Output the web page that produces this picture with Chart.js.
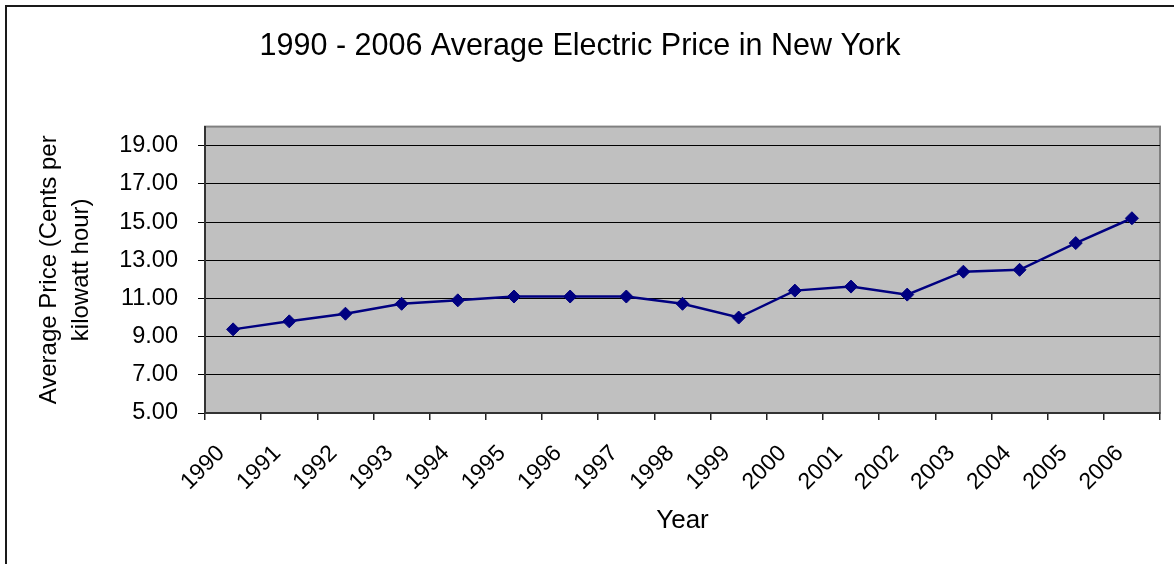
<!DOCTYPE html>
<html>
<head>
<meta charset="utf-8">
<script src="https://cdn.jsdelivr.net/npm/chart.js@4"></script>
<style>
  html, body { margin: 0; padding: 0; background: #ffffff; }
  #wrap { width: 1174px; height: 564px; position: relative; }
</style>
</head>
<body>
<div id="wrap"><canvas id="c"></canvas></div>
<script>
const years = ['1990','1991','1992','1993','1994','1995','1996','1997','1998','1999','2000','2001','2002','2003','2004','2005','2006'];
const prices = [9.38, 9.80, 10.20, 10.72, 10.90, 11.10, 11.10, 11.10, 10.72, 10.00, 11.41, 11.62, 11.20, 12.40, 12.50, 13.90, 15.20];
const yTicks = [5, 7, 9, 11, 13, 15, 17, 19];
const yMin = 5, yMax = 20;
const chartTitle = '1990 - 2006 Average Electric Price in New York';
const yTitle = ['Average Price (Cents per', 'kilowatt hour)'];
const xTitle = 'Year';

const FONT = "'Liberation Sans', Arial, sans-serif";

const framePlugin = {
  id: 'frame',
  beforeDraw(chart) {
    const ctx = chart.ctx;
    const a = chart.chartArea;
    ctx.save();
    ctx.fillStyle = '#ffffff';
    ctx.fillRect(0, 0, chart.width, chart.height);
    // outer chart frame
    ctx.strokeStyle = '#1a1a1a';
    ctx.lineWidth = 2;
    ctx.strokeRect(6, 6, chart.width + 20, chart.height + 20);
    // plot area
    ctx.fillStyle = '#C0C0C0';
    ctx.fillRect(a.left, a.top, a.right - a.left, a.bottom - a.top);
    ctx.strokeStyle = '#808080';
    ctx.lineWidth = 2;
    ctx.strokeRect(a.left, a.top, a.right - a.left, a.bottom - a.top);
    ctx.restore();
  }
};

new Chart(document.getElementById('c'), {
  type: 'line',
  data: {
    labels: years,
    datasets: [{
      data: prices,
      borderColor: '#000080',
      backgroundColor: '#000080',
      borderWidth: 2.5,
      tension: 0,
      pointStyle: 'rectRot',
      pointRadius: 6.5,
      pointBackgroundColor: '#000080',
      pointBorderColor: '#000080',
      pointBorderWidth: 1
    }]
  },
  options: {
    responsive: true,
    maintainAspectRatio: false,
    devicePixelRatio: 1,
    animation: false,
    layout: { padding: { left: 0, right: 14, top: 0, bottom: 28 } },
    plugins: {
      legend: { display: false },
      tooltip: { enabled: false },
      title: {
        display: true,
        text: chartTitle,
        color: '#000000',
        font: { family: FONT, size: 30.5, weight: 'normal', lineHeight: 1.2 },
        padding: { top: 28, bottom: 62 }
      }
    },
    scales: {
      x: {
        type: 'category',
        offset: true,
        afterFit(scale) { scale.height = 123; },
        grid: {
          offset: true,
          drawOnChartArea: false,
          drawTicks: true,
          tickLength: 7,
          color: '#222222',
          lineWidth: 1.5
        },
        border: { display: true, color: '#333333', width: 2 },
        ticks: {
          autoSkip: false,
          maxRotation: 45,
          minRotation: 45,
          padding: 20,
          labelOffset: -12,
          color: '#000000',
          font: { family: FONT, size: 23 }
        },
        title: {
          display: true,
          text: xTitle,
          color: '#000000',
          font: { family: FONT, size: 26, lineHeight: 1.2 },
          padding: { top: 0, bottom: 0 }
        }
      },
      y: {
        type: 'linear',
        min: yMin,
        max: yMax,
        afterFit(scale) { scale.width = 205; },
        afterBuildTicks(scale) { scale.ticks = yTicks.map(v => ({ value: v })); },
        grid: {
          drawOnChartArea: true,
          drawTicks: true,
          tickLength: 7,
          color: '#000000',
          lineWidth: 1
        },
        border: { display: true, color: '#333333', width: 2 },
        ticks: {
          padding: 20,
          color: '#000000',
          font: { family: FONT, size: 23.5 },
          callback: (v) => Number(v).toFixed(2)
        },
        title: {
          display: true,
          text: yTitle,
          color: '#000000',
          font: { family: FONT, size: 24, lineHeight: 1.333 },
          padding: { top: 33, bottom: 0 }
        }
      }
    }
  },
  plugins: [framePlugin]
});
</script>
</body>
</html>
